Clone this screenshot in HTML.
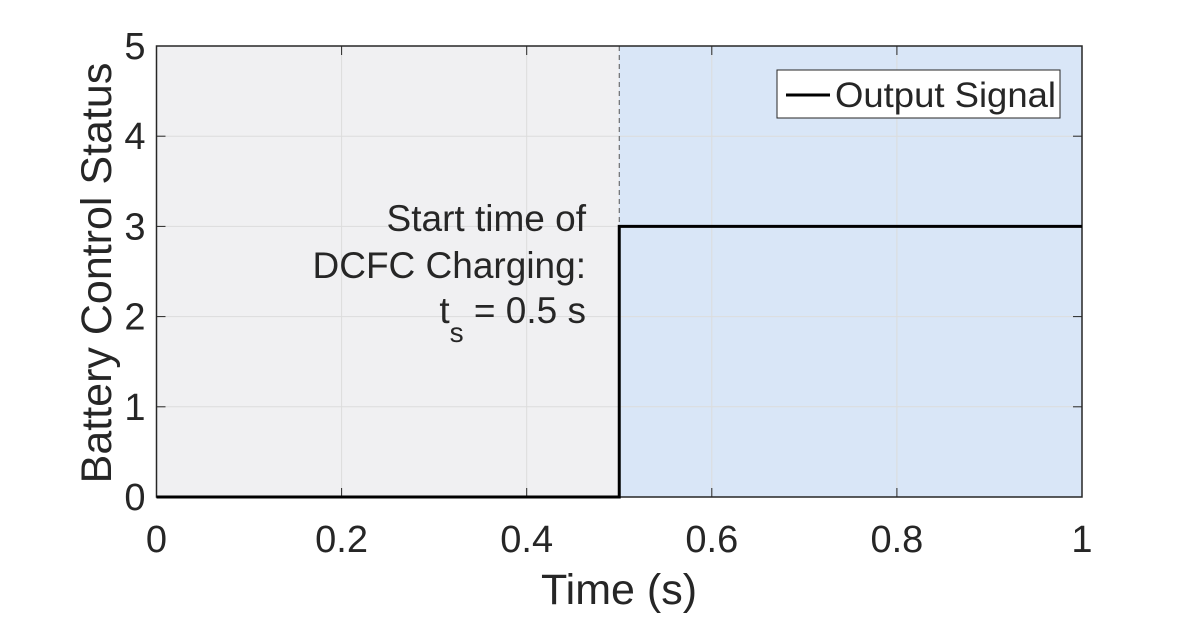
<!DOCTYPE html>
<html><head><meta charset="utf-8"><style>
body{margin:0;background:#fff;font-family:"Liberation Sans",Arial,sans-serif}
svg text{font-family:"Liberation Sans",Arial,sans-serif;fill:#262626}
</style></head><body>
<svg id="chart" width="1197" height="616">
<g id="g"></g>
</svg>
<script>
const seriesT=[0,0.5,0.5,1];
const seriesY=[0,0,3,3];
const xTicks=[0,0.2,0.4,0.6,0.8,1];
const xTickLabels=["0","0.2","0.4","0.6","0.8","1"];
const yTicks=[0,1,2,3,4,5];
const yTickLabels=["0","1","2","3","4","5"];
const regionStart=[0,0.5];
const regionEnd=[0.5,1];
const L=156.5,R=1082,T=46,B=497;
const X=v=>L+(v-0)/(1-0)*(R-L);
const Y=v=>B-(v-0)/(5-0)*(B-T);
const g=document.getElementById('g');
const NS='http://www.w3.org/2000/svg';
function mk(t,a,p){const e=document.createElementNS(NS,t);for(const k in a)e.setAttribute(k,a[k]);(p||g).appendChild(e);return e;}
const colors=['#f0f0f2','#d9e6f7'];
regionStart.forEach((s,i)=>{const r=mk('rect',{x:X(s),y:T,width:X(regionEnd[i])-X(s),height:B-T,fill:colors[i]});

});
xTicks.forEach((v,i)=>{const l=mk('line',{x1:X(v),x2:X(v),y1:T,y2:B,stroke:'#dcdcdc','stroke-width':1});


mk('line',{x1:X(v),x2:X(v),y1:B,y2:B-9,stroke:'#262626'});mk('line',{x1:X(v),x2:X(v),y1:T,y2:T+9,stroke:'#262626'});
const t=mk('text',{x:X(v),y:B+55,'font-size':38,'text-anchor':'middle'});t.textContent=xTickLabels[i];

});
yTicks.forEach((v,i)=>{const l=mk('line',{x1:L,x2:R,y1:Y(v),y2:Y(v),stroke:'#dcdcdc','stroke-width':1});


mk('line',{x1:L,x2:L+9,y1:Y(v),y2:Y(v),stroke:'#262626'});mk('line',{x1:R,x2:R-9,y1:Y(v),y2:Y(v),stroke:'#262626'});
const t=mk('text',{x:L-11,y:Y(v)+13,'font-size':38,'text-anchor':'end'});t.textContent=yTickLabels[i];

});
const dl=mk('line',{x1:X(0.5),x2:X(0.5),y1:T,y2:B,stroke:'#555','stroke-dasharray':'5,4','stroke-width':1});


const ax=mk('rect',{x:L,y:T,width:R-L,height:B-T,fill:'none',stroke:'#262626','stroke-width':1.5});


const pl=mk('polyline',{points:seriesT.map((t,i)=>X(t)+','+Y(seriesY[i])).join(' '),fill:'none',stroke:'#000','stroke-width':3});


function txt(s,x,y,sz,anc,name,extra){const t=mk('text',Object.assign({x:x,y:y,'font-size':sz,'text-anchor':anc},extra||{}));t.innerHTML=s;

return t;}
txt('Time (s)',619,604,43,'middle','x-axis-title');
txt('Battery Control Status',111,273,43,'middle','y-axis-title',{transform:'rotate(-90 111 273)'});
txt('Start time of',586,231,37,'end','annotation-line-1',{fill:'#111'});
txt('DCFC Charging:',586,278,37,'end','annotation-line-2',{fill:'#111'});
txt('t<tspan dy="19" font-size="28">s</tspan><tspan dy="-19"> = 0.5 s</tspan>',586,323,37,'end','annotation-line-3',{fill:'#111'});
const lb=mk('rect',{x:777,y:70,width:283,height:48,fill:'#fff',stroke:'#262626','stroke-width':1});


mk('line',{x1:786,x2:830,y1:95,y2:95,stroke:'#000','stroke-width':3});
txt('Output Signal',835,107,35,'start','legend-entry',{textLength:221,lengthAdjust:'spacingAndGlyphs'});
</script>
</body></html>
